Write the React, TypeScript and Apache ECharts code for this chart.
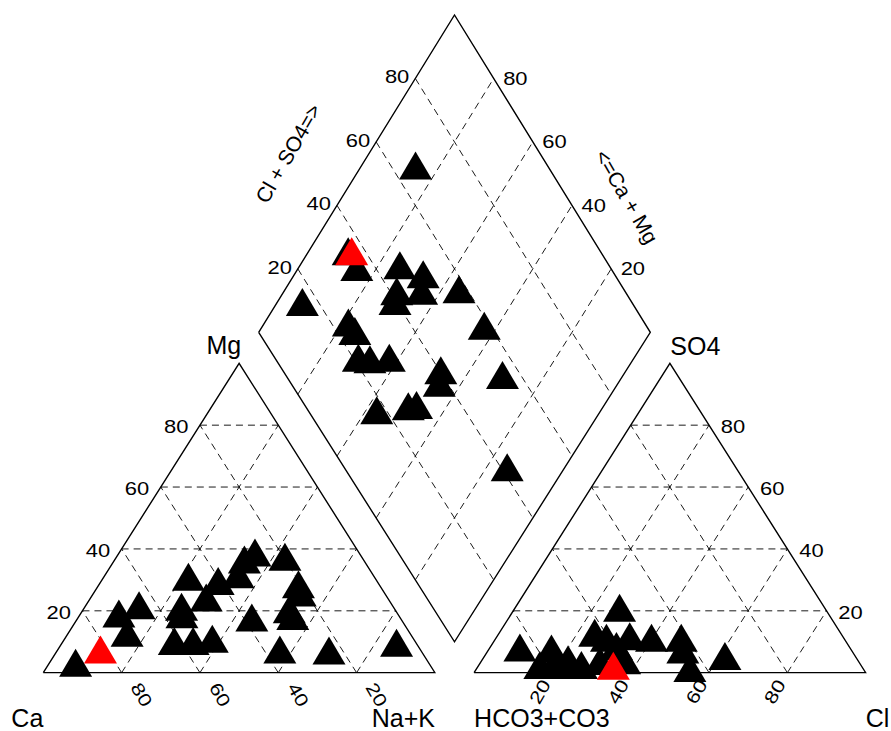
import React, { useEffect, useRef } from "react";
import * as echarts from "echarts";

// ---------- data (percent of meq) ----------
const tickValues = [20, 40, 60, 80];

// cation triangle
const cationCa = [90.9, 82.4, 71.9, 65.4, 72.9, 48.2, 54.8, 55.9, 62.2, 57.4, 52.1, 47.0, 41.3, 31.1, 27.3, 35.1, 20.3, 21.3, 22.2, 38.6, 27.7, 27.9, 36.6, 24.2, 5.7];
const cationMg = [1.7, 6.0, 17.6, 20.3, 11.4, 29.5, 19.8, 17.4, 8.7, 8.7, 9.5, 22.8, 28.1, 35.1, 37.3, 30.3, 36.0, 27.1, 24.4, 16.3, 19.0, 16.8, 6.0, 5.7, 8.2];
const cationNaK = [7.4, 11.6, 10.5, 14.3, 15.7, 22.3, 25.4, 26.7, 29.1, 33.9, 38.4, 30.2, 30.6, 33.8, 35.4, 34.6, 43.7, 51.6, 53.4, 45.1, 53.3, 55.3, 57.4, 70.1, 86.1];
const cationRedIndex = 1;

// anion triangle
const anionHCO3 = [85.0, 77.1, 82.7, 79.3, 75.5, 72.1, 74.6, 63.5, 61.3, 53.1, 55.1, 49.8, 42.2, 43.7, 44.9, 34.0, 60.3, 66.7, 60.1, 64.1];
const anionSO4 = [6.6, 6.3, 1.0, 1.0, 1.0, 1.0, 2.8, 11.4, 9.8, 19.5, 10.3, 9.8, 9.8, 6.0, 0.0, 3.9, 2.5, 2.3, 7.1, 0.7];
const anionCl = [8.4, 16.6, 16.3, 19.7, 23.5, 26.9, 22.6, 25.1, 28.9, 27.4, 34.6, 40.4, 48.0, 50.3, 55.1, 62.1, 37.2, 31.0, 32.8, 35.2];
const anionRedIndex = 19;

// diamond
const diamondNaK = [14.5, 10.8, 11.7, 15.5, 7.1, 26.2, 33.6, 29.5, 30.6, 35.8, 45.1, 22.1, 25.1, 57.3, 30.3, 33.5, 38.2, 53.4, 55.0, 69.9, 43.5, 50.9, 52.8, 86.0];
const diamondClSO4 = [65.6, 34.9, 35.8, 34.6, 15.2, 45.9, 50.4, 41.0, 39.0, 47.4, 57.2, 23.7, 24.0, 57.9, 20.6, 23.3, 28.5, 39.6, 37.2, 54.6, 16.8, 25.5, 27.8, 40.9];
const diamondRedIndex = 2;

// ---------- geometry ----------
const H = Math.sqrt(3) / 2;
const GAP = 0.1;
const MID = (1 + GAP) * H;
const TOP_K = 1.0256;
const FONT = '"Liberation Sans", Arial, Helvetica, sans-serif';

const catXY = (mg: number, nak: number) => [nak / 100 + mg / 200, (H * mg) / 100];
const anXY = (so4: number, cl: number) => [1 + GAP + cl / 100 + so4 / 200, (H * so4) / 100];
const diaXY = (nak: number, clso4: number) => {
  const s = (clso4 - nak) / 100;
  return [(1 + GAP) / 2 + (nak + clso4) / 200, MID + s * H * (s > 0 ? TOP_K : 1)];
};

function buildLines() {
  const outlines: number[][][] = [
    [catXY(0, 0), catXY(0, 100), catXY(100, 0), catXY(0, 0)],
    [anXY(0, 0), anXY(0, 100), anXY(100, 0), anXY(0, 0)],
    [diaXY(0, 0), diaXY(100, 0), diaXY(100, 100), diaXY(0, 100), diaXY(0, 0)],
  ];
  const grid: number[][][] = [];
  tickValues.forEach((v) => {
    grid.push([catXY(v, 0), catXY(v, 100 - v)]);
    grid.push([catXY(0, v), catXY(100 - v, v)]);
    grid.push([catXY(0, 100 - v), catXY(100 - v, 0)]);
    grid.push([anXY(v, 0), anXY(v, 100 - v)]);
    grid.push([anXY(0, v), anXY(100 - v, v)]);
    grid.push([anXY(0, 100 - v), anXY(100 - v, 0)]);
    grid.push([diaXY(v, 0), diaXY(v, v), diaXY(v, 100)]);
    grid.push([diaXY(0, v), diaXY(v, v), diaXY(100, v)]);
  });
  return { outlines, grid };
}

export default function App() {
  const ref = useRef<HTMLDivElement>(null);
  useEffect(() => {
    if (!ref.current) return;
    const chart = echarts.init(ref.current, undefined, { renderer: "svg" });
    const { outlines, grid } = buildLines();

    const catPts = cationMg.map((mg, i) => catXY(mg, cationNaK[i]));
    const anPts = anionSO4.map((so4, i) => anXY(so4, anionCl[i]));
    const diaPts = diamondNaK.map((nak, i) => diaXY(nak, diamondClSO4[i]));
    const black = [
      ...catPts.filter((_, i) => i !== cationRedIndex),
      ...anPts.filter((_, i) => i !== anionRedIndex),
      ...diaPts.filter((_, i) => i !== diamondRedIndex),
    ];
    const red = [catPts[cationRedIndex], anPts[anionRedIndex], diaPts[diamondRedIndex]];
    // cationCa / anionHCO3 complete the compositions (Ca = 100 - Mg - Na+K)
    void cationCa; void anionHCO3;

    const symbolSize = [33, 28];
    const symbolOffset = [0, -(28 / 2 - 28 / 3)];

    chart.setOption({
      animation: false,
      backgroundColor: "#ffffff",
      grid: { left: 43.3, top: 11.7, width: 822.4, height: 661.0, containLabel: false },
      xAxis: { type: "value", min: 0, max: 2.1, show: false },
      yAxis: { type: "value", min: 0, max: 1.85, show: false },
      series: [
        {
          type: "lines",
          coordinateSystem: "cartesian2d",
          polyline: true,
          silent: true,
          z: 2,
          lineStyle: { color: "#000", width: 0.9, type: [7, 5], opacity: 1, curveness: 0 },
          data: grid.map((c) => ({ coords: c })),
        },
        {
          type: "lines",
          coordinateSystem: "cartesian2d",
          polyline: true,
          silent: true,
          z: 3,
          lineStyle: { color: "#000", width: 1.4, type: "solid", opacity: 1, curveness: 0 },
          data: outlines.map((c) => ({ coords: c })),
        },
        {
          type: "scatter",
          z: 4,
          symbol: "triangle",
          symbolSize,
          symbolOffset,
          itemStyle: { color: "#000000", opacity: 1 },
          data: black,
        },
        {
          type: "scatter",
          z: 5,
          symbol: "triangle",
          symbolSize,
          symbolOffset,
          itemStyle: { color: "#ff0000", opacity: 1 },
          data: red,
        },
      ],
    });

    const px = (p: number[]) => chart.convertToPixel({ gridIndex: 0 }, p) as number[];
    const txt = (
      text: string,
      x: number,
      y: number,
      o: { fs: number; align?: string; rot?: number; sx?: number }
    ) => ({
      type: "text",
      x,
      y,
      rotation: ((o.rot || 0) * Math.PI) / 180,
      scaleX: o.sx || 1,
      z: 1,
      silent: true,
      style: {
        text,
        fontSize: o.fs,
        fontFamily: FONT,
        fill: "#000",
        align: o.align || "center",
        verticalAlign: "middle",
        textAlign: o.align || "center",
        textVerticalAlign: "middle",
      },
    });

    const els: any[] = [];
    const TFS = 18;
    const TSX = 1.22;
    tickValues.forEach((v) => {
      // cation left edge (Mg)
      let p = px(catXY(v, 0));
      els.push(txt(String(v), p[0] - 11.5, p[1] + 1.5, { fs: TFS, align: "right", sx: TSX }));
      // cation base (Ca)
      p = px(catXY(0, 100 - v));
      els.push(txt(String(v), p[0] + 20, p[1] + 22, { fs: TFS, rot: -60, sx: TSX }));
      // anion right edge (SO4)
      p = px(anXY(v, 100 - v));
      els.push(txt(String(v), p[0] + 11.8, p[1] + 1.5, { fs: TFS, align: "left", sx: TSX }));
      // anion base (Cl)
      p = px(anXY(0, v));
      els.push(txt(String(v), p[0] - 12.6, p[1] + 19, { fs: TFS, rot: 60, sx: TSX }));
      // diamond upper-left (Cl + SO4)
      p = px(diaXY(0, v));
      els.push(txt(String(v), p[0] - 6, p[1] - 1.5, { fs: TFS, align: "right", sx: TSX }));
      // diamond upper-right (Ca + Mg)
      p = px(diaXY(100 - v, 100));
      els.push(txt(String(v), p[0] + 9.5, p[1], { fs: TFS, align: "left", sx: TSX }));
    });

    const TF = 25;
    const CORNER_DY = 45.5;
    let p = px(catXY(100, 0));
    els.push(txt("Mg", p[0] - 15.3, p[1] - 18.3, { fs: TF }));
    p = px(anXY(100, 0));
    els.push(txt("SO4", p[0] + 25.5, p[1] - 17.3, { fs: TF }));
    p = px(catXY(0, 0));
    els.push(txt("Ca", p[0], p[1] + CORNER_DY, { fs: TF, align: "right" }));
    p = px(catXY(0, 100));
    els.push(txt("Na+K", p[0], p[1] + CORNER_DY, { fs: TF, align: "right" }));
    p = px(anXY(0, 0));
    els.push(txt("HCO3+CO3", p[0], p[1] + CORNER_DY, { fs: TF, align: "left" }));
    p = px(anXY(0, 100));
    els.push(txt("Cl", p[0], p[1] + CORNER_DY, { fs: TF, align: "left" }));
    p = px(diaXY(0, 50));
    els.push(txt("Cl + SO4=>", p[0] - 68.4, p[1] - 20.4, { fs: 21, rot: 60 }));
    p = px(diaXY(50, 100));
    els.push(txt("<=Ca + Mg", p[0] + 74.3, p[1] + 23, { fs: 21, rot: -60 }));

    chart.setOption({ graphic: { elements: els } });

    return () => chart.dispose();
  }, []);

  return (
    <div
      ref={ref}
      style={{ position: "fixed", left: 0, top: 0, width: 891, height: 731, background: "#fff" }}
    />
  );
}
